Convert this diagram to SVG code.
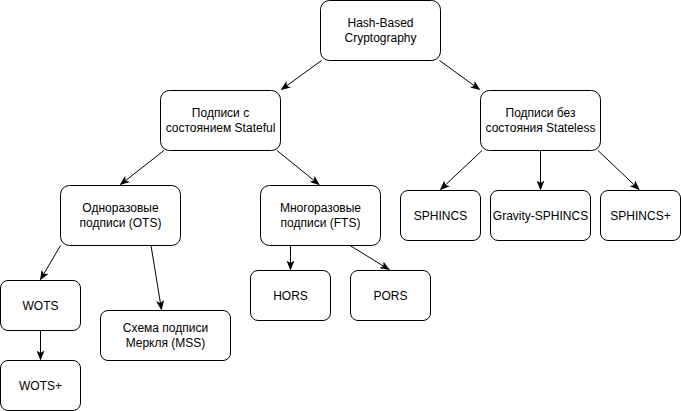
<svg xmlns="http://www.w3.org/2000/svg" width="681" height="411" viewBox="0 0 681 411">
<style>
rect.n{fill:#fff;stroke:#000;stroke-width:1}
text{font-family:"Liberation Sans",Arial,Helvetica,sans-serif;font-size:12px;fill:#000;text-anchor:middle}
.e line{stroke:#000;stroke-width:1;marker-end:url(#ah)}
</style>
<defs>
<marker id="ah" viewBox="0 0 10 8" refX="9" refY="4" markerWidth="10" markerHeight="8" markerUnits="userSpaceOnUse" orient="auto">
<path d="M0,0 L10,4 L0,8 L2.5,4 Z" fill="#000"/>
</marker>
</defs>
<rect width="681" height="411" fill="#fff"/>
<g class="e" id="connectors">
<line x1="321.5" y1="60.5" x2="281.5" y2="89.5"/>
<line x1="439.5" y1="60.5" x2="479.5" y2="89.5"/>
<line x1="164" y1="150.5" x2="120.5" y2="184.5"/>
<line x1="277" y1="150.5" x2="319" y2="184.5"/>
<line x1="482" y1="150.5" x2="440.5" y2="189.5"/>
<line x1="540.5" y1="150.5" x2="540.5" y2="189.5"/>
<line x1="598" y1="150.5" x2="639" y2="189.5"/>
<line x1="60.5" y1="245.5" x2="40.5" y2="279.5"/>
<line x1="151" y1="245.5" x2="161.5" y2="309.5"/>
<line x1="290.5" y1="245.5" x2="290.5" y2="269.5"/>
<line x1="350" y1="245.5" x2="389" y2="269.5"/>
<line x1="40.5" y1="330.5" x2="40.5" y2="359.5"/>
</g>
<g id="hash"><rect class="n" x="320.5" y="0.5" width="120" height="60" rx="9"/><text x="380.5" y="27">Hash-Based</text><text x="380.5" y="41.5">Cryptography</text></g>
<g id="stateful"><rect class="n" x="160.5" y="90.5" width="120" height="60" rx="9"/><text x="220.5" y="117">Подписи с</text><text x="220.5" y="131.5">состоянием Stateful</text></g>
<g id="stateless"><rect class="n" x="480.5" y="90.5" width="120" height="60" rx="9"/><text x="540.5" y="117">Подписи без</text><text x="540.5" y="131.5">состояния Stateless</text></g>
<g id="ots"><rect class="n" x="60.5" y="185.5" width="120" height="60" rx="9"/><text x="120.5" y="212">Одноразовые</text><text x="120.5" y="226.5">подписи (OTS)</text></g>
<g id="fts"><rect class="n" x="260.5" y="185.5" width="120" height="60" rx="9"/><text x="320.5" y="212">Многоразовые</text><text x="320.5" y="226.5">подписи (FTS)</text></g>
<g id="sphincs"><rect class="n" x="400.5" y="190.5" width="80" height="50" rx="7.5"/><text x="440.5" y="219.5">SPHINCS</text></g>
<g id="gravity"><rect class="n" x="490.5" y="190.5" width="100" height="50" rx="7.5"/><text x="540.5" y="219.5">Gravity-SPHINCS</text></g>
<g id="sphincsplus"><rect class="n" x="600.5" y="190.5" width="80" height="50" rx="7.5"/><text x="640.5" y="219.5">SPHINCS+</text></g>
<g id="wots"><rect class="n" x="0.5" y="280.5" width="80" height="50" rx="7.5"/><text x="40.5" y="309.5">WOTS</text></g>
<g id="wotsplus"><rect class="n" x="0.5" y="360.5" width="80" height="50" rx="7.5"/><text x="40.5" y="389.5">WOTS+</text></g>
<g id="mss"><rect class="n" x="100.5" y="310.5" width="130" height="50" rx="7.5"/><text x="165.5" y="332">Схема подписи</text><text x="165.5" y="346.5">Меркля (MSS)</text></g>
<g id="hors"><rect class="n" x="250.5" y="270.5" width="80" height="50" rx="7.5"/><text x="290.5" y="299.5">HORS</text></g>
<g id="pors"><rect class="n" x="350.5" y="270.5" width="80" height="50" rx="7.5"/><text x="390.5" y="299.5">PORS</text></g>
</svg>
